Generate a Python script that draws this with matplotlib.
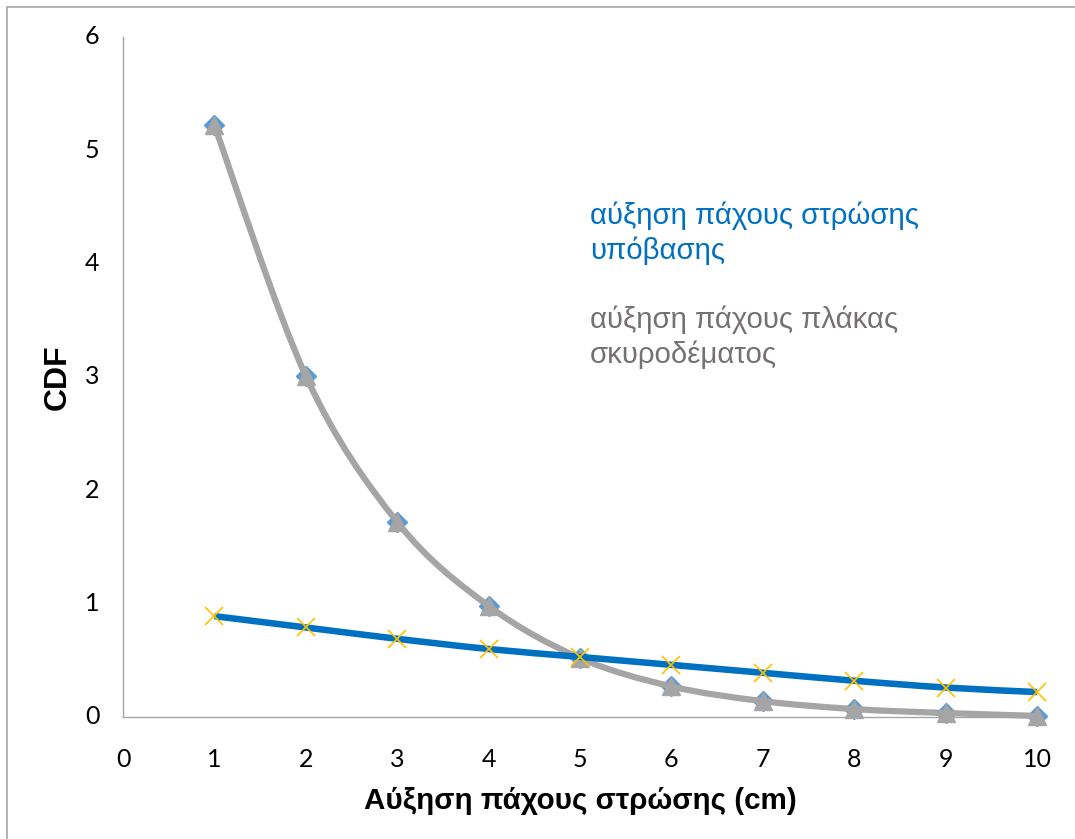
import numpy as np
import matplotlib
matplotlib.use("Agg")
import matplotlib.pyplot as plt
from matplotlib.path import Path
from matplotlib.patches import PathPatch, Rectangle

# Layer thickness increase (cm)
thickness = [1, 2, 3, 4, 5, 6, 7, 8, 9, 10]
# CDF when the concrete slab gets thicker
cdf_slab = [5.22, 3.01, 1.72, 0.98, 0.52, 0.27, 0.14, 0.07, 0.035, 0.01]
# CDF when the subbase layer gets thicker
cdf_subbase = [0.89, 0.79, 0.69, 0.60, 0.53, 0.46, 0.39, 0.32, 0.26, 0.22]

x_ticks = [0, 1, 2, 3, 4, 5, 6, 7, 8, 9, 10]
y_ticks = [0, 1, 2, 3, 4, 5, 6]
label_subbase = "αύξηση πάχους στρώσης\nυπόβασης"
label_slab = "αύξηση πάχους πλάκας\nσκυροδέματος"
x_title = "Αύξηση πάχους στρώσης (cm)"
y_title = "CDF"

BLUE = "#0070C0"
LIGHT_BLUE = "#5B9BD5"
GRAY = "#A5A5A5"
GOLD = "#FFC000"
TEXT_GRAY = "#767171"


def smooth_path(xs, ys):
    """Catmull-Rom style cubic Bezier through the points (smoothed line)."""
    pts = np.column_stack([xs, ys]).astype(float)
    n = len(pts)
    verts = [pts[0]]
    codes = [Path.MOVETO]
    for i in range(n - 1):
        p0 = pts[max(i - 1, 0)]
        p1 = pts[i]
        p2 = pts[i + 1]
        p3 = pts[min(i + 2, n - 1)]
        c1 = p1 + (p2 - p0) / 6.0
        c2 = p2 - (p3 - p1) / 6.0
        verts += [c1, c2, p2]
        codes += [Path.CURVE4] * 3
    return Path(verts, codes)


fig = plt.figure(figsize=(10.75, 8.39), dpi=100)
ax = fig.add_axes([123 / 1075, 1 - 717 / 839, (1037 - 123) / 1075, (717 - 37) / 839])

# concrete slab series: blue diamonds under grey smoothed line + triangles
ax.plot(thickness, cdf_slab, linestyle="none", marker="D", markersize=10,
        color=LIGHT_BLUE, zorder=3, clip_on=False)
ax.add_patch(PathPatch(smooth_path(thickness, cdf_slab), facecolor="none",
                       edgecolor=GRAY, linewidth=4.5, capstyle="round",
                       zorder=4, clip_on=False))
ax.plot(thickness, cdf_slab, linestyle="none", marker="^", markersize=13,
        color=GRAY, zorder=5, clip_on=False)

# subbase series: blue smoothed line with gold crosses
ax.add_patch(PathPatch(smooth_path(thickness, cdf_subbase), facecolor="none",
                       edgecolor=BLUE, linewidth=4.7, capstyle="butt",
                       zorder=6, clip_on=False))
ax.plot(thickness, cdf_subbase, linestyle="none", marker="x", markersize=13,
        markeredgewidth=1.2, color=GOLD, zorder=7, clip_on=False)

ax.set_xlim(0, 10)
ax.set_ylim(0, 6)
ax.set_xticks(x_ticks)
ax.set_yticks(y_ticks)
tick_font = dict(family=["Lato", "DejaVu Sans"], size=18)
ax.set_xticklabels([str(v) for v in x_ticks], **tick_font)
ax.set_yticklabels([str(v) for v in y_ticks], **tick_font)
ax.tick_params(axis="both", length=0, pad=0)
ax.tick_params(axis="x", pad=22)
ax.tick_params(axis="y", pad=17)
for lab in ax.get_yticklabels():
    lab.set_verticalalignment("center")

for side in ("top", "right"):
    ax.spines[side].set_visible(False)
for side in ("left", "bottom"):
    ax.spines[side].set_color("#A6A6A6")
    ax.spines[side].set_linewidth(1.0)

ax.set_xlabel(x_title, family=["Liberation Sans", "DejaVu Sans"],
              fontweight="bold", size=21.3, labelpad=12)
fig.text(58 / 1075, 1 - 377 / 839, y_title, rotation=90,
         family=["Liberation Sans", "DejaVu Sans"], fontweight="bold",
         size=23, ha="center", va="center")

fig.text(590 / 1075, 1 - 202 / 839, label_subbase, color=BLUE,
         family=["Liberation Sans", "DejaVu Sans"], size=21.2,
         ha="left", va="top", linespacing=1.25)
fig.text(590 / 1075, 1 - 306 / 839, label_slab, color=TEXT_GRAY,
         family=["Liberation Sans", "DejaVu Sans"], size=21.2,
         ha="left", va="top", linespacing=1.25)

# chart area border
fig.patches.append(Rectangle((7 / 1075, -0.05), 1.2, 1 - 7 / 839 + 0.05,
                             transform=fig.transFigure, fill=False,
                             edgecolor="#A6A6A6", linewidth=1.2))

fig.savefig("out.png", dpi=100, facecolor="white")
